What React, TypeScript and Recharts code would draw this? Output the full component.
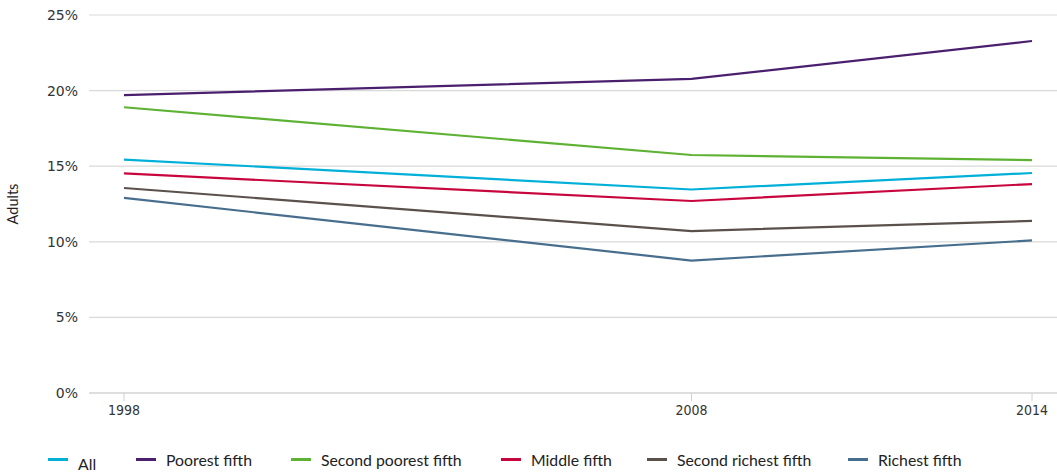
import React from "react";
import { LineChart, Line, XAxis, YAxis, CartesianGrid } from "recharts";

const years = [1998, 2008, 2014];
const allAdults = [15.44, 13.46, 14.55];
const poorest = [19.7, 20.77, 23.28];
const secondPoorest = [18.9, 15.74, 15.4];
const middle = [14.52, 12.7, 13.82];
const secondRichest = [13.56, 10.71, 11.38];
const richest = [12.9, 8.76, 10.09];
const yTicks = [0, 5, 10, 15, 20, 25];

const seriesDefs = [
  { key: "all", name: "All", values: allAdults, color: "#00b0d8" },
  { key: "poorest", name: "Poorest fifth", values: poorest, color: "#4a1f6e" },
  { key: "secondPoorest", name: "Second poorest fifth", values: secondPoorest, color: "#5db233" },
  { key: "middle", name: "Middle fifth", values: middle, color: "#c8063e" },
  { key: "secondRichest", name: "Second richest fifth", values: secondRichest, color: "#5b514c" },
  { key: "richest", name: "Richest fifth", values: richest, color: "#476e8c" },
];

const data = years.map((year, i) => {
  const row: Record<string, number> = { year };
  seriesDefs.forEach((s) => {
    row[s.key] = s.values[i];
  });
  return row;
});

const legendPositions = [48, 136, 291, 501, 647, 848];

export default function App() {
  return (
    <div style={{ position: "absolute", left: 0, top: 0, width: 1057, height: 473 }}>
      <LineChart
        width={1057}
        height={473}
        data={data}
        margin={{ top: 15, right: 0, left: 0, bottom: 0 }}
      >
        <CartesianGrid vertical={false} stroke="#d9d9d9" strokeWidth={1.2} />
        <XAxis
          dataKey="year"
          type="number"
          domain={[1998, 2014]}
          ticks={years}
          padding={{ left: 35, right: 25 }}
          height={80}
          stroke="#d0d0d0"
          tickSize={8}
          tickMargin={4}
          tick={{ fill: "#333", fontSize: 14, fontFamily: "DejaVu Sans Condensed, DejaVu Sans" }}
        />
        <YAxis
          domain={[0, 25]}
          ticks={yTicks}
          width={89}
          axisLine={false}
          tickLine={false}
          tickSize={0}
          tickMargin={11}
          tickFormatter={(v: number) => `${v}%`}
          tick={{ fill: "#333", fontSize: 14, fontFamily: "DejaVu Sans" }}
          label={{
            value: "Adults",
            angle: -90,
            position: "insideLeft",
            offset: 13,
            style: { fill: "#222", fontSize: 14.5, fontFamily: "Lato", textAnchor: "middle" },
          }}
        />
        {seriesDefs.map((s) => (
          <Line
            key={s.key}
            dataKey={s.key}
            name={s.name}
            stroke={s.color}
            strokeWidth={2.2}
            dot={false}
            activeDot={false}
            isAnimationActive={false}
          />
        ))}
      </LineChart>
      {seriesDefs.map((s, i) => (
        <div
          key={s.key}
          style={{
            position: "absolute",
            left: legendPositions[i],
            top: i === 0 ? 454 : 450,
            display: "flex",
            alignItems: "center",
            fontFamily: "Lato",
            fontSize: 15.8,
            color: "#222",
            whiteSpace: "nowrap",
          }}
        >
          <span
            style={{
              display: "inline-block",
              width: 20,
              height: 2.5,
              background: s.color,
              marginRight: 10,
              marginTop: i === 0 ? -8 : 0,
            }}
          />
          <span>{s.name}</span>
        </div>
      ))}
    </div>
  );
}
